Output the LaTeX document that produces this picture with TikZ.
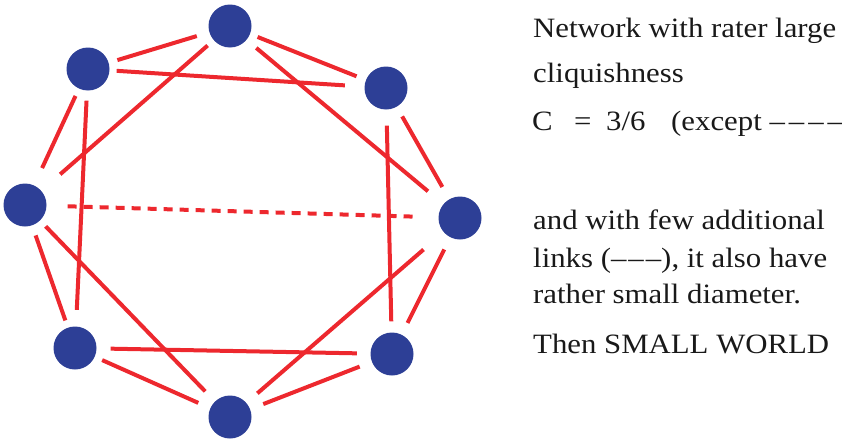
\documentclass[tikz,border=0pt]{standalone}
\usepackage{fontspec}
\setmainfont{Liberation Serif}
\newfontfamily\wtxt[FakeStretch=1.1]{Liberation Serif}
\definecolor{nodeblue}{RGB}{45,63,150}
\definecolor{linkred}{RGB}{237,40,46}
\tikzset{
  vtx/.style={circle,fill=nodeblue,draw=none,minimum size=43pt,inner sep=0pt},
  lnk/.style={draw=linkred,line width=4pt},
  extra/.style={lnk,dash pattern=on 9pt off 7pt},
  txt/.style={anchor=base west,inner sep=0pt,font=\wtxt\fontsize{28}{30}\selectfont,text=black!90}
}
\newcommand{\lnkdraw}[5][lnk]{\draw[#1,shorten <=#4pt,shorten >=#5pt] (#2) -- (#3);}
\newcommand{\dsh}{–\kern2pt}
\newcommand{\wdsh}{–\kern4pt}
\begin{document}
\begin{tikzpicture}[x=1pt,y=-1pt]
\useasboundingbox (0,0) rectangle (842,439);
\node[vtx] (T)  at (230,26) {};
\node[vtx] (UL) at (88,69) {};
\node[vtx] (UR) at (386,88) {};
\node[vtx] (L)  at (25,205) {};
\node[vtx] (R)  at (460,218) {};
\node[vtx] (LL) at (75,348) {};
\node[vtx] (LR) at (392,354) {};
\node[vtx] (B)  at (230,417) {};
\lnkdraw{T}{UL}{13}{9}
\lnkdraw{T}{UR}{8}{10}
\lnkdraw{T}{L}{8}{25}
\lnkdraw{T}{R}{12.5}{20}
\lnkdraw{UL}{UR}{7}{19.5}
\lnkdraw{UL}{L}{8}{19}
\lnkdraw{UL}{LL}{10}{16.5}
\lnkdraw{UR}{R}{11}{14}
\lnkdraw{UR}{LR}{16}{11}
\lnkdraw[extra]{L}{R}{21}{25.5}
\lnkdraw{L}{B}{8}{14}
\lnkdraw{L}{LL}{10.5}{7.5}
\lnkdraw{R}{LR}{13.5}{13}
\lnkdraw{R}{B}{26.5}{14.5}
\lnkdraw{LL}{LR}{14}{13.5}
\lnkdraw{LL}{B}{8}{13}
\lnkdraw{LR}{B}{13}{14}
\node[txt] (t1) at (533,37) {Network with rater large};
\node[txt] (t2) at (533,82) {cliquishness};
\node[txt] (t3a) at (532,130) {C};
\node[txt] (t3b) at (574,130) {=};
\node[txt] (t3c) at (606,130) {3/6};
\node[txt] (t3d) at (671,130) {(except \wdsh\wdsh\wdsh\wdsh};
\node[txt] (t4) at (533,229) {and with few additional};
\node[txt] (t5) at (533,267) {links (\dsh\dsh–), it also have};
\node[txt] (t6) at (533,303) {rather small diameter.};
\node[txt] (t7) at (533,353) {Then SMALL WORLD};
\end{tikzpicture}
\end{document}
